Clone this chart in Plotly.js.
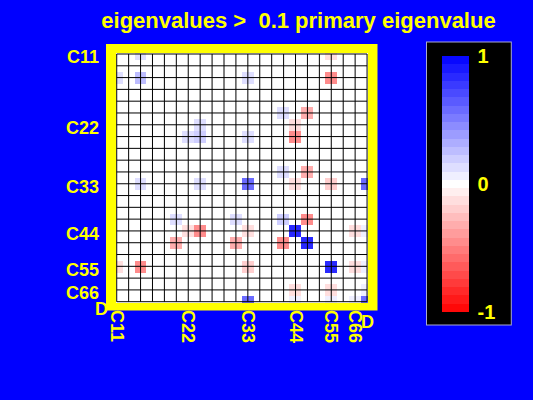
<!DOCTYPE html>
<html>
<head>
<meta charset="utf-8">
<script src="https://cdn.plot.ly/plotly-3.0.1.min.js"></script>
<style>
  html, body { margin: 0; padding: 0; background: #0000ff; }
  #chart { width: 533px; height: 400px; }
</style>
</head>
<body>
<div id="chart"></div>
<script>
// ---- data ----
const paramNames = ['C11','C12','C13','C14','C15','C16','C22','C23','C24','C25','C26',
                    'C33','C34','C35','C36','C44','C45','C46','C55','C56','C66','D'];
const tickNames = ['C11','C22','C33','C44','C55','C66'];
const cornerName = 'D';
// symmetric matrix entries (row parameter, column parameter, value)
const pairRow = ['C13','C23','C33','C36','C44','C45','C55','D',
                 'C11','C11','C13','C13','C16','C16','C22','C22','C23','C23',
                 'C26','C26','C33','C33','C33','C36','C44','C44','C55','C55','C66'];
const pairCol = ['C13','C23','C33','C36','C44','C45','C55','D',
                 'C13','C55','C33','C55','C36','C45','C23','C44','C33','C44',
                 'C36','C45','C44','C55','D','C45','C66','D','C66','D','D'];
const pairVal = [0.25, 0.20, 0.55, 0.22, 0.85, 0.85, 0.85, 0.60,
                 0.10, -0.15, 0.12, -0.48, 0.15, -0.32, 0.10, -0.15, 0.12, -0.45,
                 0.15, -0.32, -0.15, -0.18, 0.55, -0.42, -0.12, 0.08, -0.12, 0.08, 0.05];
const cbTickVals = [-1, 0, 1];
const cbTickText = ['-1', '0', '1'];
const titleText = 'eigenvalues > \u00a00.1 primary eigenvalue';

// ---- build matrix ----
const n = paramNames.length;
const idx = paramNames.map((_, i) => i);
const z = idx.map(() => idx.map(() => 0));
pairRow.forEach((r, k) => {
  const i = paramNames.indexOf(r), j = paramNames.indexOf(pairCol[k]);
  z[i][j] = pairVal[k];
  z[j][i] = pairVal[k];
});

// ---- stepped blue-white-red colorscale ----
const nLevels = 31;
function colAt(v) {
  if (v >= 0) { const c = Math.round(255 * (1 - v)); return `rgb(${c},${c},255)`; }
  const c = Math.round(255 * (1 + v)); return `rgb(255,${c},${c})`;
}
const colorscale = [];
for (let i = 0; i < nLevels; i++) {
  const c = colAt(-1 + (i + 0.5) * 2 / nLevels);
  colorscale.push([i / nLevels, c], [(i + 1) / nLevels, c]);
}

// ---- grid lines through cell centres ----
const last = n - 1;
const gx = [], gy = [];
idx.forEach(k => { gx.push(k, k, null); gy.push(0, last, null); });
idx.forEach(k => { gx.push(0, last, null); gy.push(k, k, null); });

const Y = '#ffff00';
const fam = 'Liberation Sans, Arial, Helvetica, sans-serif';

const heat = {
  type: 'heatmap', x: idx, y: idx, z: z, zmin: -1, zmax: 1,
  colorscale: colorscale, hoverinfo: 'skip',
  colorbar: {
    x: 1.236, xanchor: 'left', y: 1.042, yanchor: 'top',
    len: 282, lenmode: 'pixels', thickness: 27, thicknessmode: 'pixels',
    xpad: 15, ypad: 13, bgcolor: '#000000', bordercolor: '#a8a8d0', borderwidth: 1,
    outlinewidth: 0, tickvals: cbTickVals, ticktext: cbTickText,
    ticks: 'outside', ticklen: 5, tickcolor: '#000000',
    tickfont: { color: Y, size: 20, family: fam, weight: 'bold' }
  }
};
const grid = {
  type: 'scatter', mode: 'lines', x: gx, y: gy, hoverinfo: 'skip',
  line: { color: '#000000', width: 1 }, showlegend: false, cliponaxis: true
};

const tickIdx = tickNames.map(t => paramNames.indexOf(t));
const dIdx = paramNames.indexOf(cornerName);
const tf = { color: Y, size: 18, family: fam, weight: 'bold' };

const layout = {
  width: 533, height: 400,
  paper_bgcolor: '#0000ff', plot_bgcolor: '#ffffff',
  margin: { l: 116, r: 165, t: 53, b: 97, pad: 0 },
  showlegend: false,
  title: { text: titleText, x: 0.56, xref: 'container', xanchor: 'center',
           y: 0.95, yref: 'container', yanchor: 'middle',
           font: { color: Y, size: 22, family: fam, weight: 'bold' } },
  xaxis: { range: [-0.06, 21.08], showgrid: false, zeroline: false, showline: false,
           tickvals: tickIdx, ticktext: tickNames, tickangle: 90, ticks: '',
           ticklabelstandoff: 6, tickfont: tf, fixedrange: true },
  yaxis: { range: [21.11, -0.085], showgrid: false, zeroline: false, showline: false,
           tickvals: tickIdx, ticktext: tickNames, ticks: '',
           ticklabelstandoff: 16, ticklabelshift: -3, tickfont: tf, fixedrange: true },
  shapes: [{ type: 'rect', xref: 'paper', yref: 'paper', layer: 'below',
             x0: -0.0397, x1: 1.0377, y0: -0.03, y1: 1.036,
             fillcolor: Y, line: { width: 0 } }],
  annotations: [
    { xref: 'x', x: dIdx, yref: 'paper', y: -0.076, text: cornerName, showarrow: false,
      xanchor: 'center', yanchor: 'middle', font: tf },
    { xref: 'paper', x: -0.057, yref: 'y', y: dIdx, yshift: -7, text: cornerName, showarrow: false,
      xanchor: 'center', yanchor: 'middle', font: tf }
  ]
};

Plotly.newPlot('chart', [heat, grid], layout, { displayModeBar: false, staticPlot: true });
</script>
</body>
</html>
